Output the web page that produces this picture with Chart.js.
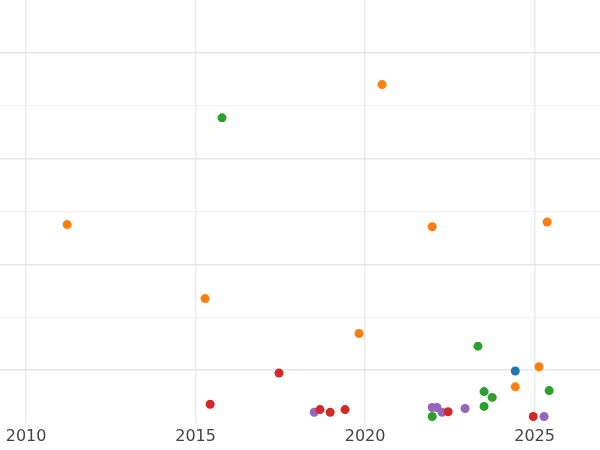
<!DOCTYPE html>
<html>
<head>
<script src="https://cdn.jsdelivr.net/npm/chart.js@4"></script>
<style>html,body{margin:0;padding:0;background:#fff}#wrap{width:600px;height:450px}</style>
</head>
<body>
<div id="wrap"><canvas id="chart"></canvas></div>
<script>
// series values (x = year, y = arbitrary units)
const orangeX = [2011.21, 2015.28, 2019.82, 2020.50, 2021.98, 2025.37, 2025.13, 2024.43];
const orangeY = [3.75, 2.35, 1.69, 6.40, 3.71, 3.80, 1.06, 0.68];
const greenX = [2015.78, 2023.33, 2023.51, 2023.75, 2023.51, 2021.98, 2025.43];
const greenY = [5.77, 1.45, 0.59, 0.48, 0.31, 0.12, 0.61];
const redX = [2017.46, 2015.43, 2018.67, 2018.97, 2019.41, 2022.45, 2024.96];
const redY = [0.94, 0.35, 0.25, 0.20, 0.25, 0.21, 0.12];
const purpleX = [2018.50, 2021.98, 2022.12, 2022.27, 2022.95, 2025.28];
const purpleY = [0.20, 0.29, 0.29, 0.20, 0.27, 0.12];
const blueX = [2024.43];
const blueY = [0.98];
const xTicks = [2010, 2015, 2020, 2025];

const pts = (xs, ys) => xs.map((x, i) => ({ x: x, y: ys[i] }));
const ds = (xs, ys, color) => ({
    data: pts(xs, ys),
    backgroundColor: color,
    borderWidth: 0,
    pointRadius: 4.5,
    pointHoverRadius: 4.5
});

new Chart(document.getElementById('chart'), {
    type: 'scatter',
    data: {
        datasets: [
            ds(orangeX, orangeY, '#ff7f0e'),
            ds(greenX, greenY, '#2ca02c'),
            ds(redX, redY, '#d62728'),
            ds(purpleX, purpleY, '#9467bd'),
            ds(blueX, blueY, '#1f77b4')
        ]
    },
    options: {
        responsive: true,
        maintainAspectRatio: false,
        animation: false,
        layout: { padding: 0, autoPadding: false },
        plugins: { legend: { display: false }, tooltip: { enabled: false } },
        scales: {
            x: {
                type: 'linear',
                min: 2009.23,
                max: 2026.93,
                afterBuildTicks: axis => { axis.ticks = xTicks.map(v => ({ value: v })); },
                grid: { color: '#ebebeb', lineWidth: 1.5, drawTicks: false },
                border: { display: false },
                ticks: { color: '#444', font: { size: 16, family: 'DejaVu Sans' }, padding: 4, callback: v => String(v) }
            },
            y: {
                min: 0,
                max: 8,
                afterBuildTicks: axis => { axis.ticks = [1, 2, 3, 4, 5, 6, 7].map(v => ({ value: v })); },
                grid: {
                    color: ctx => (ctx.tick && ctx.tick.value % 2 === 1) ? '#e6e6e6' : '#f0f0f0',
                    lineWidth: ctx => (ctx.tick && ctx.tick.value % 2 === 1) ? 1.5 : 1,
                    drawTicks: false
                },
                border: { display: false },
                ticks: { display: false }
            }
        }
    }
});
</script>
</body>
</html>
